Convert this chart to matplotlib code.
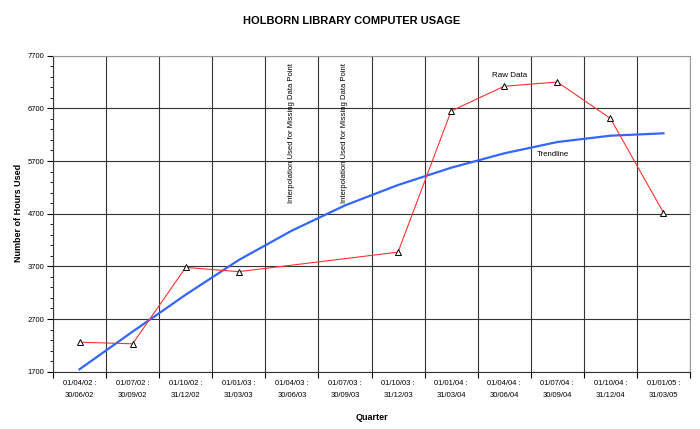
import numpy as np
import matplotlib
matplotlib.use("Agg")
import matplotlib.pyplot as plt
from matplotlib.ticker import FixedLocator

plt.rcParams['font.family'] = ['Liberation Sans', 'DejaVu Sans']

# quarters (two line labels)
quarters = ['01/04/02 :\n30/06/02', '01/07/02 :\n30/09/02', '01/10/02 :\n31/12/02',
            '01/01/03 :\n31/03/03', '01/04/03 :\n30/06/03', '01/07/03 :\n30/09/03',
            '01/10/03 :\n31/12/03', '01/01/04 :\n31/03/04', '01/04/04 :\n30/06/04',
            '01/07/04 :\n30/09/04', '01/10/04 :\n31/12/04', '01/01/05 :\n31/03/05']

# raw data, None = missing quarter (interpolated)
raw_hours = [2260, 2230, 3680, 3600, None, None, 3970, 6650, 7120, 7200, 6510, 4720]

# trendline
trend_hours = [1746, 2461, 3162, 3821, 4379, 4857, 5245, 5573, 5846, 6061, 6181, 6226]

y_ticks = [1700, 2700, 3700, 4700, 5700, 6700, 7700]

missing_note = 'Interpolation Used for Missing Data Point'

fig = plt.figure(figsize=(7, 4.29), dpi=100)
ax = fig.add_axes([53/700, 1 - 371.7/429, 637/700, 316/429])

x = np.arange(len(quarters))
known = [i for i, v in enumerate(raw_hours) if v is not None]
known_vals = [raw_hours[i] for i in known]

ax.plot(x, trend_hours, color='#3366FF', lw=1.6, zorder=3)
ax.plot(known, known_vals, color='#FF3030', lw=0.8, zorder=4)
ax.plot(known, known_vals, ls='none', marker='^', ms=4, mfc='white',
        mec='black', mew=0.7, zorder=5)

ax.set_xlim(-0.5, len(quarters) - 0.5)
ax.set_ylim(y_ticks[0], y_ticks[-1])

ax.yaxis.set_major_locator(FixedLocator(y_ticks))
ax.yaxis.set_minor_locator(FixedLocator(np.arange(y_ticks[0], y_ticks[-1] + 1, 200)))
ax.set_xticks(x)
ax.set_xticklabels(quarters, fontsize=5.5, linespacing=1.9)
ax.xaxis.set_minor_locator(FixedLocator(np.arange(-0.5, len(quarters), 1.0)))
ax.tick_params(axis='x', which='major', length=0, pad=6)
ax.tick_params(axis='x', which='minor', length=4, width=0.8, direction='out')
ax.tick_params(axis='y', which='major', length=4, width=0.8, labelsize=5.5, pad=2)
ax.tick_params(axis='y', which='minor', length=2, width=0.6)

ax.grid(axis='y', which='major', color='#333333', lw=0.8)
ax.grid(axis='x', which='minor', color='#333333', lw=0.8)
ax.set_axisbelow(True)

for side in ['top', 'right']:
    ax.spines[side].set_color('#999999')
for side in ['left', 'bottom']:
    ax.spines[side].set_color('#333333')

for i in range(len(raw_hours)):
    if raw_hours[i] is None:
        ax.text(i, 7560, missing_note, rotation=90, ha='center', va='top', fontsize=5.5)

ax.text(8.1, 7330, 'Raw Data', ha='center', va='center', fontsize=5.8)
ax.text(8.92, 5828, 'Trendline', ha='center', va='center', fontsize=5.6)

fig.text(352/700, 1 - 21/429, 'HOLBORN LIBRARY COMPUTER USAGE', ha='center',
         va='center', fontsize=8, fontweight='bold')
fig.text(372/700, 1 - 418/429, 'Quarter', ha='center', va='center',
         fontsize=6.5, fontweight='bold')
fig.text(19/700, 1 - 213/429, 'Number of Hours Used', ha='center', va='center',
         rotation=90, fontsize=6.5, fontweight='bold')

fig.savefig('out.png', dpi=100)
